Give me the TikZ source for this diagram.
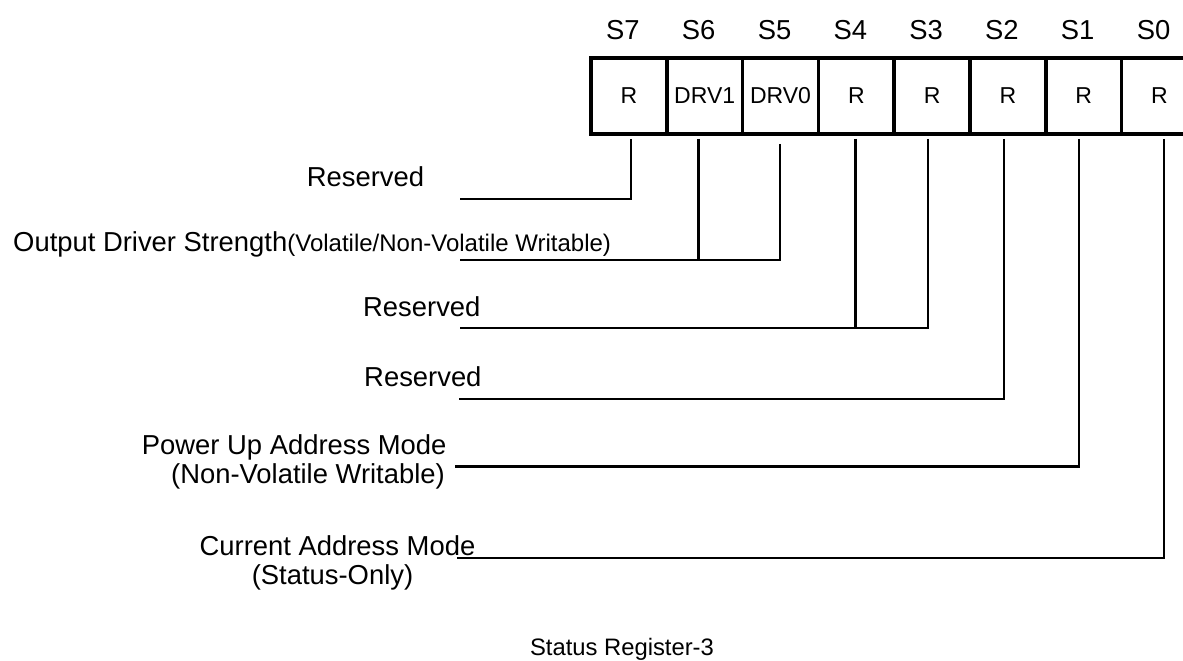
\documentclass[tikz,border=0pt]{standalone}
\usepackage{fontspec}
\setmainfont{Liberation Sans}
\begin{document}
\begin{tikzpicture}[x=1pt,y=-1pt,
  cell/.style={draw,line width=3.5pt,minimum width=75.8pt,minimum height=76pt,inner sep=0pt,font=\fontsize{23}{26}\selectfont},
  bitlbl/.style={anchor=base,inner sep=0pt,font=\fontsize{27.4}{30}\selectfont},
  lbl/.style={inner sep=0pt,font=\fontsize{27.4}{30}\selectfont},
  wire/.style={line width=2.6pt}]
\clip (0,0) rectangle (1183,661);
\fill[white] (0,0) rectangle (1183,661);
% register cells
\foreach \i/\t [count=\k from 0] in {7/R,6/DRV1,5/DRV0,4/R,3/R,2/R,1/R,0/R}{
  \node[cell] (c\i) at ({591+75.8*\k+37.9},96) {\t};
  \node[bitlbl] (b\i) at ({591+75.8*\k+37.9-6},39.5) {S\i};
}
% labels
\node[lbl,anchor=base west] (r7) at (306.7,186.7) {Reserved};
\node[lbl,anchor=base west] (drv) at (13,251) {Output Driver Strength{\fontsize{24}{26}\selectfont(Volatile/Non-Volatile Writable)}};
\node[lbl,anchor=base west] (r43) at (363,316) {Reserved};
\node[lbl,anchor=base east] (r2) at (481.7,386) {Reserved};
\node[lbl,anchor=base east] (pu1) at (446.7,454) {Power Up Address Mode};
\node[lbl,anchor=base east] (pu2) at (445,483) {(Non-Volatile Writable)};
\node[lbl,anchor=base] (cm1) at (337.5,555) {Current Address Mode};
\node[lbl,anchor=base] (cm2) at (332.5,584) {(Status-Only)};
\node[anchor=base,inner sep=0pt,font=\fontsize{23.8}{26}\selectfont] (cap) at (622,655) {Status Register-3};
% line ends
\coordinate (e7) at (460,199);
\coordinate (e65) at (460,260);
\coordinate (e43) at (460,328);
\coordinate (e2) at (459,399);
\coordinate (e1) at (455,466.7);
\coordinate (e0) at (457,558);
% connectors
\draw[wire] ([xshift=2pt,yshift=-3pt]c7.south) |- (e7);
\draw[wire] ([xshift=-6pt,yshift=-3pt]c6.south) |- (e65);
\draw[wire] ([xshift=-0.5pt,yshift=-8pt]c5.south) |- (e65);
\draw[wire] ([xshift=-0.6pt,yshift=-3pt]c4.south) |- (e43);
\draw[wire] ([xshift=-4.3pt,yshift=-3pt]c3.south) |- (e43);
\draw[wire] ([xshift=-4pt,yshift=-3pt]c2.south) |- (e2);
\draw[wire] ([xshift=-4.7pt,yshift=-3pt]c1.south) |- (e1);
\draw[wire] ([xshift=4.5pt,yshift=-3pt]c0.south) |- (e0);
\end{tikzpicture}
\end{document}
